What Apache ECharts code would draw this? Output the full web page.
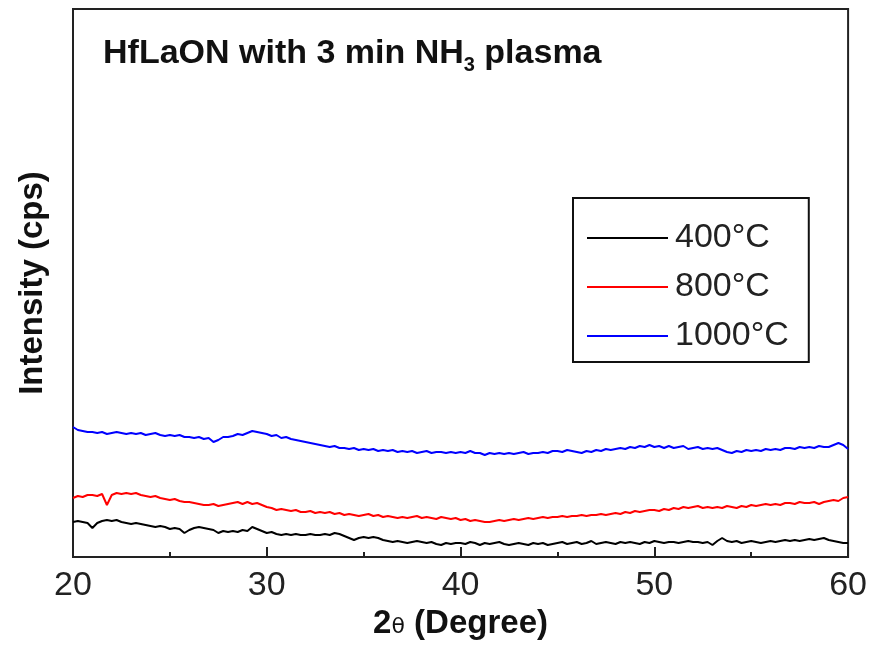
<!DOCTYPE html>
<html>
<head>
<meta charset="utf-8">
<script src="https://cdn.jsdelivr.net/npm/echarts@6/dist/echarts.min.js"></script>
<style>
    html, body {margin: 0; padding: 0; background: #fff;}
    #chart {width: 870px; height: 646px;}
</style>
</head>
<body>
<div id="chart"></div>
<script>
// 2theta sampled from 20 to 60 deg, every 0.25 deg
var thetaStart = 20;
var thetaStep = 0.25;

// intensity, arbitrary units
var black400 = [
    35, 36, 35, 34, 29, 34, 36, 37, 36, 37, 35, 34, 33, 34, 33, 32,
    31, 30, 31, 30, 28, 29, 28, 24, 27, 29, 30, 29, 28, 27, 24, 26,
    25, 26, 25, 27, 26, 30, 28, 26, 24, 25, 23, 22, 23, 22, 23, 22,
    22, 23, 22, 22, 23, 22, 24, 23, 21, 19, 17, 19, 20, 19, 20, 19,
    17, 16, 15, 16, 15, 14, 15, 16, 15, 14, 15, 13, 12, 14, 13, 14,
    14, 13, 15, 14, 12, 14, 13, 14, 15, 13, 12, 13, 14, 13, 12, 14,
    13, 14, 12, 13, 14, 15, 13, 14, 15, 13, 14, 16, 13, 14, 15, 14,
    13, 15, 14, 15, 14, 13, 15, 14, 16, 15, 14, 15, 15, 14, 15, 16,
    15, 15, 14, 15, 12, 16, 19, 16, 15, 16, 14, 15, 16, 15, 14, 15,
    16, 15, 16, 17, 16, 17, 16, 17, 18, 17, 18, 19, 17, 16, 15, 14,
    14
];
var red800 = [
    59, 61, 60, 62, 62, 61, 63, 52, 62, 64, 63, 64, 63, 64, 62, 61,
    60, 61, 59, 58, 57, 58, 56, 55, 55, 54, 53, 52, 52, 53, 51, 52,
    53, 54, 55, 53, 55, 53, 54, 52, 50, 49, 47, 48, 47, 46, 47, 45,
    45, 46, 44, 45, 44, 45, 43, 44, 42, 43, 42, 41, 42, 43, 41, 42,
    40, 41, 40, 39, 40, 39, 40, 41, 39, 40, 39, 38, 40, 39, 38, 39,
    37, 38, 36, 37, 36, 35, 35, 36, 37, 36, 37, 38, 37, 38, 39, 38,
    39, 40, 39, 40, 40, 41, 40, 41, 41, 42, 41, 42, 42, 43, 42, 43,
    44, 43, 45, 44, 46, 45, 46, 47, 47, 46, 48, 47, 49, 48, 50, 49,
    50, 51, 49, 50, 49, 50, 49, 51, 50, 49, 51, 50, 52, 51, 52, 53,
    52, 53, 52, 54, 54, 53, 55, 54, 54, 55, 53, 55, 56, 57, 56, 59,
    60
];
var blue1000 = [
    130, 127, 126, 125, 125, 124, 125, 123, 124, 125, 124, 123, 124, 123, 124, 122,
    123, 124, 122, 121, 122, 121, 122, 120, 120, 119, 120, 118, 119, 115, 117, 120,
    120, 121, 123, 122, 124, 126, 125, 124, 123, 121, 122, 119, 120, 118, 117, 116,
    115, 114, 113, 112, 111, 110, 111, 109, 109, 108, 109, 107, 108, 107, 108, 106,
    107, 106, 107, 105, 106, 105, 106, 104, 105, 106, 104, 105, 105, 104, 105, 104,
    105, 104, 106, 104, 104, 102, 104, 103, 104, 103, 104, 103, 104, 105, 103, 104,
    104, 105, 104, 106, 106, 105, 107, 106, 105, 104, 106, 105, 107, 106, 108, 107,
    108, 109, 108, 110, 109, 111, 110, 112, 110, 111, 109, 111, 109, 110, 111, 108,
    109, 110, 108, 109, 108, 109, 107, 105, 104, 106, 105, 107, 106, 107, 106, 108,
    107, 108, 107, 109, 109, 108, 110, 109, 110, 109, 111, 110, 110, 112, 114, 112,
    108
];

var seriesNames = ['400°C', '800°C', '1000°C'];
var seriesColors = ['#000000', '#ff0000', '#0000ff'];
var xTicks = [20, 30, 40, 50, 60];

var toPairs = function (vals) {
    return vals.map(function (v, i) {
        return [thetaStart + i * thetaStep, v];
    });
};

var font = 'Liberation Sans, Arial, sans-serif';
var myChart = echarts.init(document.getElementById('chart'));

var option = {
    animation: false,
    backgroundColor: '#fff',
    title: {
        text: 'HfLaON with 3 min NH{sub|3} plasma',
        left: 103,
        top: 33,
        padding: 0,
        textStyle: {
            fontFamily: font,
            fontSize: 34,
            fontWeight: 'bold',
            color: '#111',
            rich: {
                sub: {
                    fontFamily: font,
                    fontSize: 20,
                    fontWeight: 'bold',
                    color: '#111',
                    padding: [22, 0, 0, 0]
                }
            }
        }
    },
    legend: {
        orient: 'vertical',
        left: 573,
        top: 198,
        padding: [22, 20, 8, 14],
        borderColor: '#111',
        borderWidth: 2,
        itemWidth: 81,
        itemHeight: 14,
        itemGap: 13,
        icon: 'path://M0,6 L81,6 L81,8 L0,8 Z',
        textStyle: {
            fontFamily: font,
            fontSize: 34,
            lineHeight: 36,
            color: '#222',
            padding: [0, 0, 0, 2]
        },
        data: seriesNames
    },
    grid: {
        left: 73,
        right: 20,
        top: 9,
        bottom: 89,
        show: true,
        borderColor: '#222',
        borderWidth: 2,
        backgroundColor: 'transparent'
    },
    xAxis: {
        type: 'value',
        min: 20,
        max: 60,
        interval: 10,
        name: '2{th|θ} (Degree)',
        nameLocation: 'middle',
        nameGap: 46,
        nameTextStyle: {
            fontFamily: font,
            fontSize: 33,
            fontWeight: 'bold',
            color: '#111',
            rich: {
                th: {
                    fontFamily: 'DejaVu Sans, sans-serif',
                    fontSize: 22,
                    fontWeight: 'normal',
                    color: '#111',
                    padding: [6, 0, 0, 0]
                }
            }
        },
        axisLine: {lineStyle: {color: '#222', width: 2}},
        axisTick: {inside: true, length: 10, lineStyle: {color: '#222', width: 2}},
        minorTick: {show: true, splitNumber: 2, length: 5, lineStyle: {color: '#222', width: 2}},
        splitLine: {show: false},
        axisLabel: {
            fontFamily: font,
            fontSize: 34,
            color: '#222',
            margin: 12,
            customValues: xTicks
        }
    },
    yAxis: {
        type: 'value',
        min: 0,
        max: 548,
        name: 'Intensity (cps)',
        nameLocation: 'middle',
        nameGap: 24,
        nameTextStyle: {
            fontFamily: font,
            fontSize: 33,
            fontWeight: 'bold',
            color: '#111'
        },
        axisLine: {show: true, lineStyle: {color: '#222', width: 2}},
        axisTick: {show: false},
        axisLabel: {show: false},
        splitLine: {show: false}
    },
    series: [black400, red800, blue1000].map(function (vals, k) {
        return {
            name: seriesNames[k],
            type: 'line',
            data: toPairs(vals),
            symbol: 'none',
            color: seriesColors[k],
            lineStyle: {color: seriesColors[k], width: 2}
        };
    })
};

myChart.setOption(option);
</script>
</body>
</html>
